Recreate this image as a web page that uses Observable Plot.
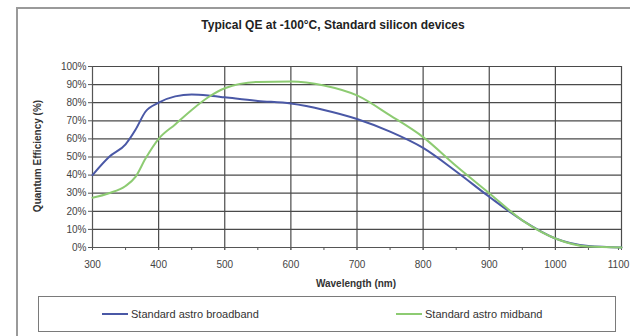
<!DOCTYPE html>
<html>
<head>
<meta charset="utf-8">
<script src="https://cdn.jsdelivr.net/npm/d3@7"></script>
<script src="https://cdn.jsdelivr.net/npm/@observablehq/plot@0.6"></script>
<style>
  html, body { margin: 0; padding: 0; background: #fff; }
  #chart { position: relative; width: 630px; height: 336px; overflow: hidden; font-family: "Liberation Sans", Arial, sans-serif; color: #333; }
  #outer { position: absolute; left: 16px; top: 7px; width: 700px; height: 400px; border: 2px solid #9a9a9a; box-sizing: border-box; }
  #plot { position: absolute; left: 0; top: 0; }
  #title { position: absolute; left: 0; width: 666px; top: 18px; text-align: center; font-weight: bold; font-size: 12px; color: #222; }
  #ytitle { position: absolute; left: 37px; top: 156px; transform: translate(-50%, -50%) rotate(-90deg); white-space: nowrap; font-weight: bold; font-size: 10px; color: #333; }
  #xtitle { position: absolute; left: 356px; top: 283px; transform: translate(-50%, -50%); white-space: nowrap; font-weight: bold; font-size: 10px; color: #333; }
  #legend { position: absolute; left: 38px; top: 296px; width: 578px; height: 36px; border: 1.5px solid #7a7a7a; box-sizing: border-box; }
  .item { position: absolute; top: 0; height: 33px; display: flex; align-items: center; font-size: 11px; color: #333; white-space: nowrap; }
  .swatch { display: inline-block; width: 26px; height: 2px; margin-right: 3px; }
</style>
</head>
<body>
<div id="chart">
  <div id="outer"></div>
  <div id="plot"></div>
  <div id="title"></div>
  <div id="ytitle"></div>
  <div id="xtitle"></div>
  <div id="legend"></div>
</div>
<script>
// Quantum efficiency curves (percent) against wavelength (nm)
const wavelengths = [300, 325, 350, 365, 380, 400, 425, 450, 475, 500, 550, 600, 650, 700, 750, 800, 850, 900, 950, 1000, 1050, 1100];
const broadband   = [40, 50, 57, 65, 75, 80, 83.5, 84.5, 84, 83, 81, 79.5, 76, 71, 64, 55, 42, 28, 15, 5, 0.8, 0];
const midband     = [27.5, 30, 34, 39, 49, 60, 68, 76, 83, 88, 91.5, 91.7, 89.5, 84, 73, 61, 45, 30, 15, 5, 0.5, 0];

const seriesNames  = ["Standard astro broadband", "Standard astro midband"];
const seriesColors = ["#4a58a6", "#8dcb72"];

const xTicks = [300, 400, 500, 600, 700, 800, 900, 1000, 1100];
const xMinorTicks = [300, 350, 400, 450, 500, 550, 600, 650, 700, 750, 800, 850, 900, 950, 1000, 1050, 1100];
const yTicks = [0, 10, 20, 30, 40, 50, 60, 70, 80, 90, 100];

const titleText = "Typical QE at -100°C, Standard silicon devices";
const xTitle = "Wavelength (nm)";
const yTitle = "Quantum Efficiency (%)";

const rows = [];
[broadband, midband].forEach((vals, s) => {
  vals.forEach((v, i) => rows.push({series: seriesNames[s], wavelength: wavelengths[i], qe: v}));
});

const lastTick = xTicks[xTicks.length - 1];
const innerTicks = xTicks.slice(0, -1);

const chart = Plot.plot({
  width: 630,
  height: 336,
  marginLeft: 92,
  marginRight: 9,
  marginTop: 66,
  marginBottom: 89,
  style: {fontFamily: "'Liberation Sans', Arial, sans-serif", fontSize: "10px", color: "#444", background: "transparent"},
  x: {domain: [300, 1100]},
  y: {domain: [0, 100]},
  color: {domain: seriesNames, range: seriesColors},
  marks: [
    Plot.frame({stroke: "#c4c4c4"}),
    Plot.gridY({ticks: yTicks, stroke: "#4a4a4a", strokeOpacity: 1, strokeWidth: 1.2}),
    Plot.gridX({ticks: xTicks, stroke: "#4a4a4a", strokeOpacity: 1, strokeWidth: 1.2}),
    Plot.axisX({ticks: xMinorTicks, tickSize: 3, tickFormat: () => "", label: null, stroke: "#555"}),
    Plot.axisX({ticks: innerTicks, tickSize: 3, tickPadding: 10, tickFormat: d => String(d), label: null, fill: "#444", stroke: "#555"}),
    // the right-most label is nudged left so it stays inside the page
    Plot.axisX({ticks: [lastTick], tickSize: 3, tickPadding: 10, tickFormat: d => String(d), label: null, fill: "#444", stroke: "#555", dx: -3}),
    Plot.axisY({ticks: yTicks, tickSize: 4, tickPadding: 2, tickFormat: d => d + "%", label: null, fill: "#444", stroke: "#555"}),
    Plot.ruleY([0], {stroke: "#555"}),
    Plot.ruleX([300], {stroke: "#555"}),
    Plot.line(rows, {x: "wavelength", y: "qe", z: "series", stroke: "series", strokeWidth: 2, curve: "monotone-x"})
  ]
});
document.getElementById("plot").appendChild(chart);

document.getElementById("title").textContent = titleText;
document.getElementById("xtitle").textContent = xTitle;
document.getElementById("ytitle").textContent = yTitle;

// Legend entries placed in the boxed strip under the chart
const legend = document.getElementById("legend");
const itemLeft = [63, 357];
seriesNames.forEach((name, i) => {
  const item = document.createElement("div");
  item.className = "item";
  item.style.left = itemLeft[i] + "px";
  const sw = document.createElement("span");
  sw.className = "swatch";
  sw.style.background = seriesColors[i];
  item.appendChild(sw);
  item.appendChild(document.createTextNode(name));
  legend.appendChild(item);
});
</script>
</body>
</html>
